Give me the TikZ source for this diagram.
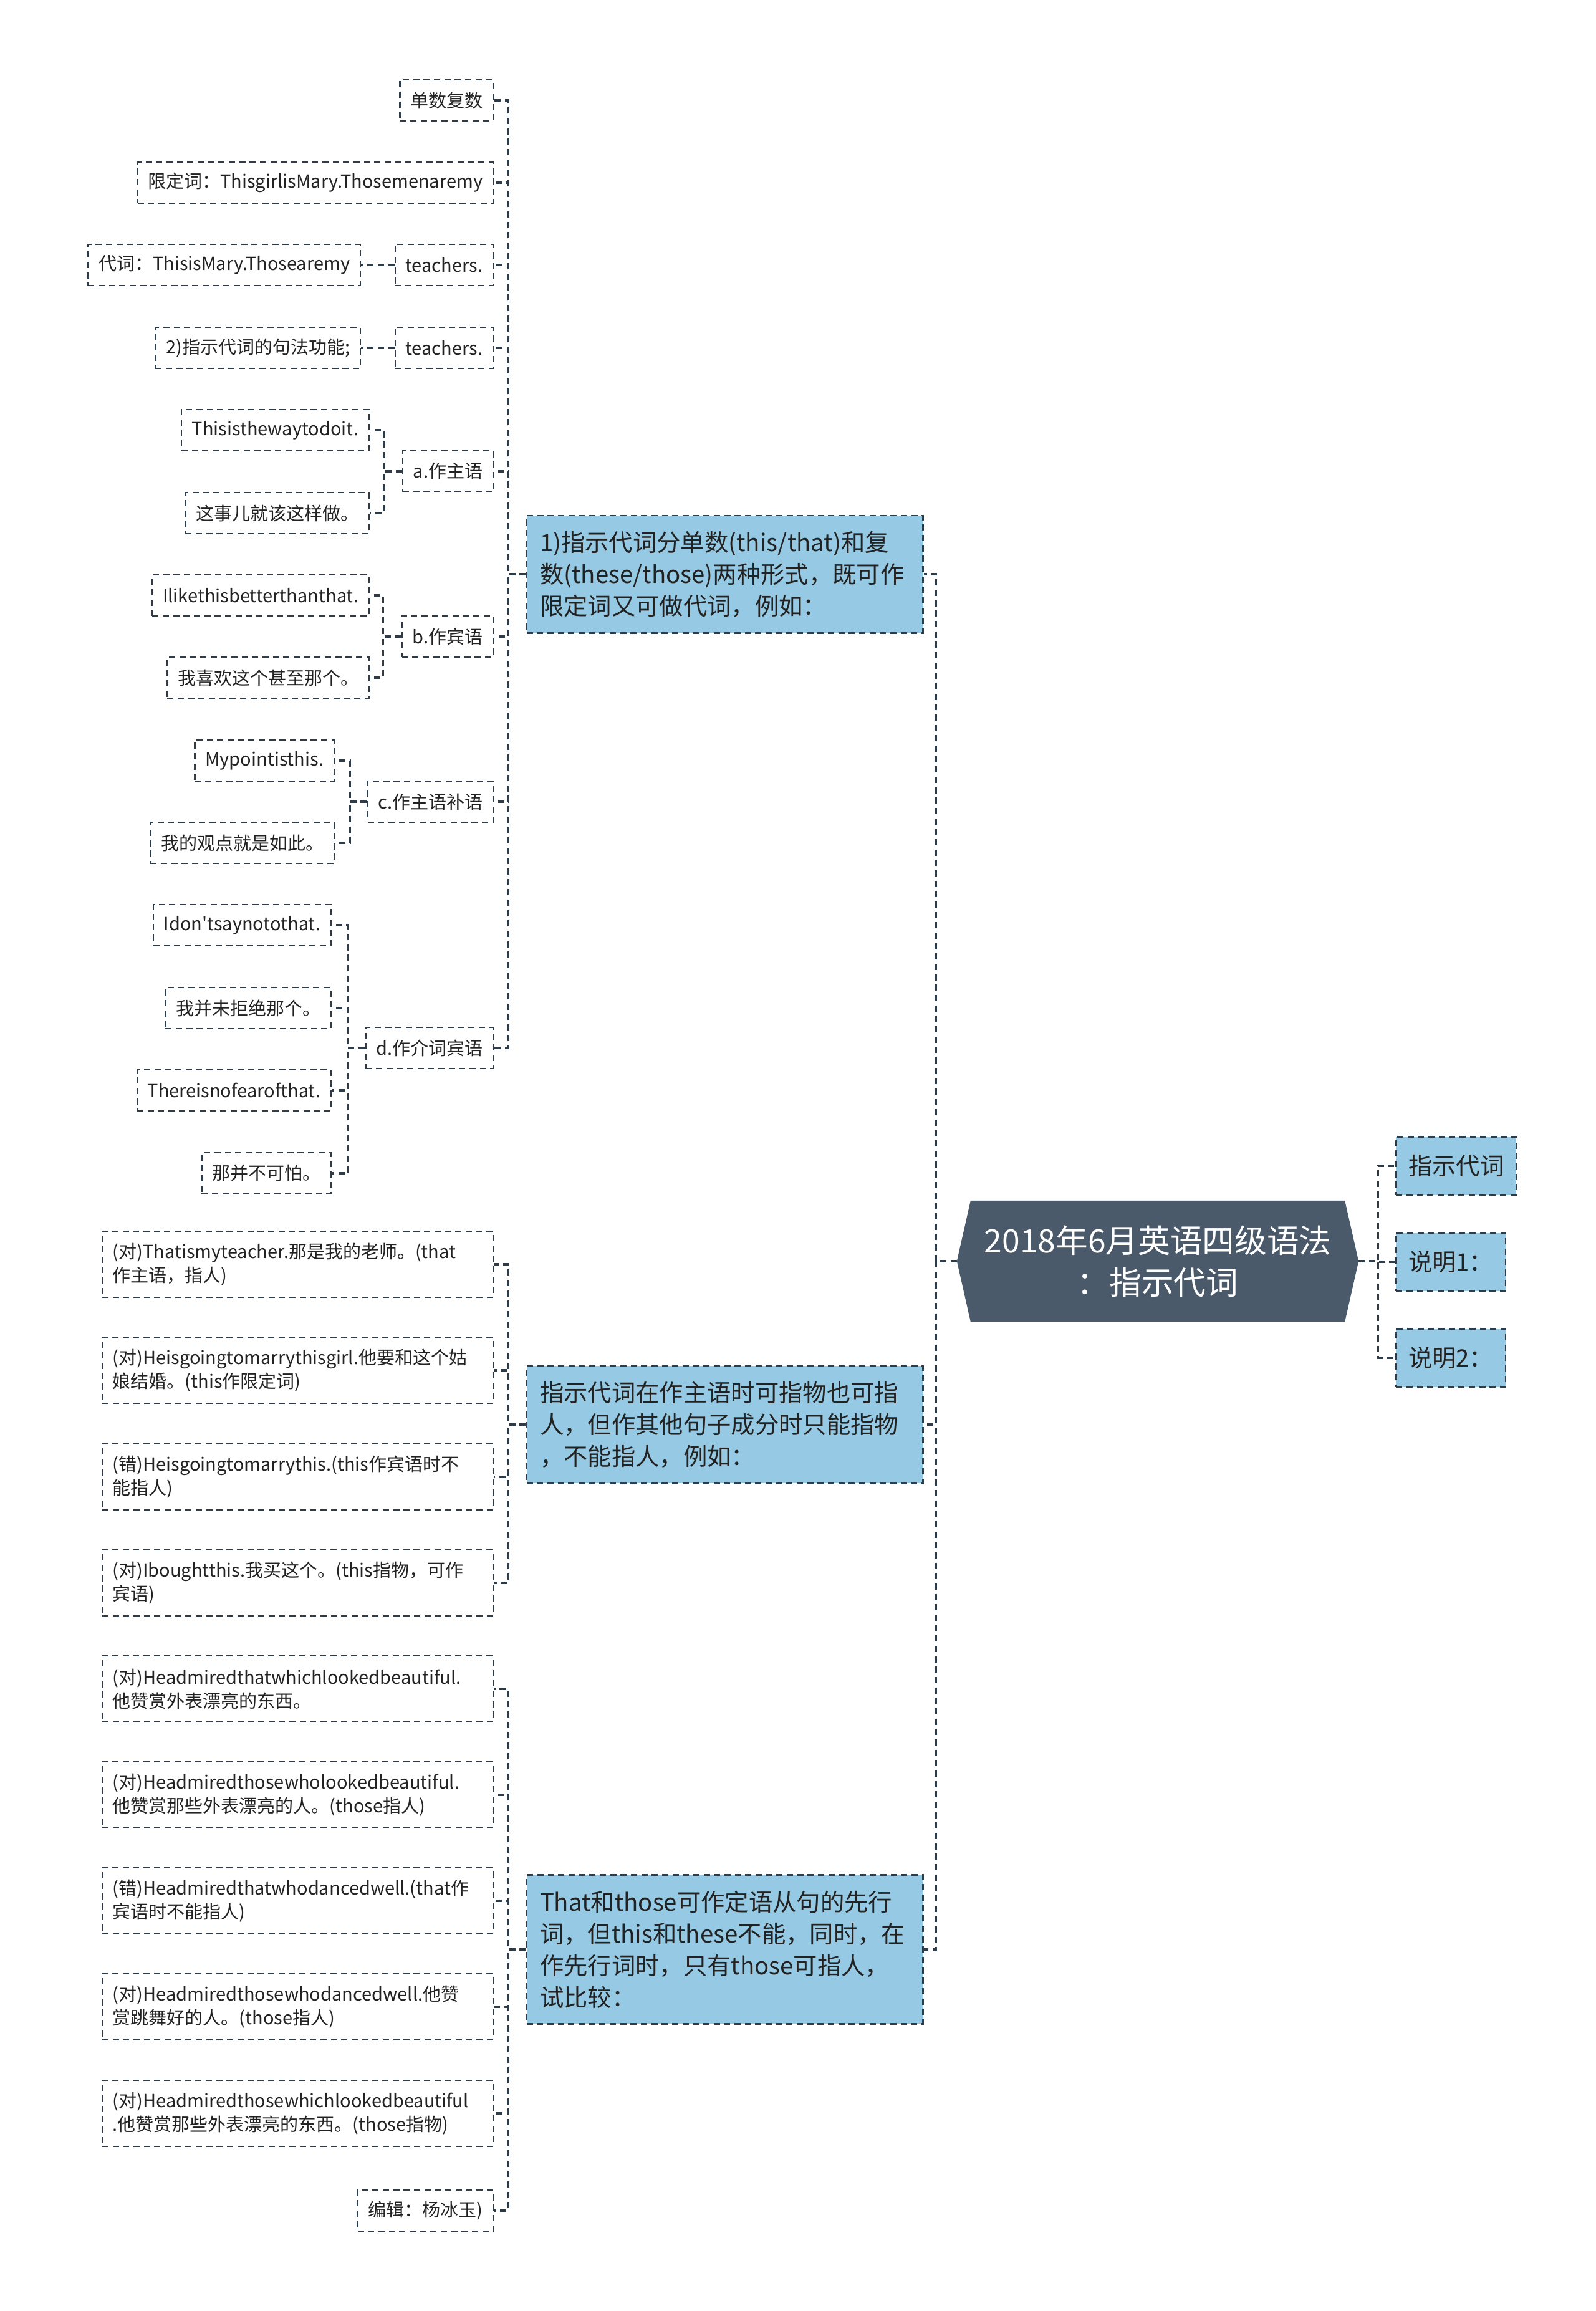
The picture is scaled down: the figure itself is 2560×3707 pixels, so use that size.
\documentclass[tikz,border=0pt]{standalone}
\usepackage{fontspec}
\setmainfont{Noto Sans CJK SC}
\usepackage{tikz}
\usetikzlibrary{backgrounds}
\definecolor{MapEdge}{RGB}{46,60,73}
\definecolor{MapBlue}{RGB}{150,202,228}
\definecolor{MapRoot}{RGB}{74,90,106}
\definecolor{MapText}{RGB}{34,34,34}
\newlength\mapunit
\setlength\mapunit{0.3pt}
\begin{document}
\begin{tikzpicture}[x=1\mapunit,y=-1\mapunit,
link/.style={draw=MapEdge,line width=0.95pt,dash pattern=on 3pt off 2pt},
leaf/.style={draw=MapEdge,line width=0.75pt,dash pattern=on 3pt off 2pt,text=MapText,font=\fontsize{8.7}{11.4}\selectfont,inner xsep=5pt,minimum height=66\mapunit,anchor=east},
wide/.style={leaf,text width=178pt,align=left,minimum height=106\mapunit},
topic/.style={draw=MapEdge,fill=MapBlue,line width=0.8pt,dash pattern=on 3pt off 2pt,text=MapText,font=\fontsize{11.5}{15.3}\selectfont,inner xsep=6.4pt,inner ysep=7.5pt,text width=178pt,align=left,anchor=east},
note/.style={draw=MapEdge,fill=MapBlue,line width=0.8pt,dash pattern=on 3pt off 2pt,text=MapText,font=\fontsize{11.5}{15.3}\selectfont,inner xsep=5.9pt,minimum height=93\mapunit,anchor=west},
rootbox/.style={text=white,font=\fontsize{15.5}{20}\selectfont,align=center,minimum width=599\mapunit,minimum height=193\mapunit,inner sep=0pt}]
\useasboundingbox (0,0) rectangle (2560,3707);
\node[rootbox] (root) at (1857,2023) {2018年6月英语四级语法\\：指示代词};
\coordinate (rootW) at ([xshift=-22\mapunit]root.west);
\coordinate (rootE) at ([xshift=22\mapunit]root.east);
\begin{scope}[on background layer]
\fill[MapRoot] (rootW) -- (root.north west) -- (root.north east) -- (rootE) -- (root.south east) -- (root.south west) -- cycle;
\end{scope}
\node[note] (r1) at (2238,1870) {指示代词};
\node[note] (r2) at (2238,2024) {说明1：};
\node[note] (r3) at (2238,2178) {说明2：};
\foreach \r in {r1,r2,r3} {
   \draw[link] (rootE) -- ++(31,0) |- (\r.west);
}
\node[topic] (B1) at (1482,921) {1)指示代词分单数(this/that)和复\\数(these/those)两种形式，既可作\\限定词又可做代词，例如：};
\node[topic] (B2) at (1482,2285) {指示代词在作主语时可指物也可指\\人，但作其他句子成分时只能指物\\，不能指人，例如：};
\node[topic] (B3) at (1482,3127) {That和those可作定语从句的先行\\词，但this和these不能，同时，在\\作先行词时，只有those可指人，\\试比较：};
\foreach \b in {B1,B2,B3} {
   \draw[link] (rootW) -- ++(-33,0) |- (\b.east);
}
\foreach \n/\y/\t in %
{l1/161/单数复数,l2/293/{限定词：ThisgirlisMary.Thosemenaremy},t1/425/teachers.,t2/558/teachers.,sa/756/a.作主语,sb/1021/b.作宾语,sc/1286/c.作主语补语,sd/1681/d.作介词宾语} {
   \node[leaf] (\n) at (792,\y) {\t};
   \draw[link] (B1.west) -- ++(-28,0) |- (\n.east);
}
\node[leaf] (d1) at (579,425) {代词：ThisisMary.Thosearemy};
\node[leaf] (d2) at (579,558) {2)指示代词的句法功能;};
\draw[link] (t1.west) -- (d1.east);
\draw[link] (t2.west) -- (d2.east);
\foreach \n/\y/\t in %
{sa1/690/Thisisthewaytodoit.,sa2/823/这事儿就该这样做。} {
   \node[leaf] (\n) at (593,\y) {\t};
   \draw[link] (sa.west) -- ++(-29,0) |- (\n.east);
}
\foreach \n/\y/\t in %
{sb1/955/Ilikethisbetterthanthat.,sb2/1087/我喜欢这个甚至那个。} {
   \node[leaf] (\n) at (593,\y) {\t};
   \draw[link] (sb.west) -- ++(-29,0) |- (\n.east);
}
\foreach \n/\y/\t in %
{sc1/1220/Mypointisthis.,sc2/1352/我的观点就是如此。} {
   \node[leaf] (\n) at (537,\y) {\t};
   \draw[link] (sc.west) -- ++(-27,0) |- (\n.east);
}
\foreach \n/\y/\t in %
{sd1/1484/Idon\textquotesingle tsaynotothat.,sd2/1617/我并未拒绝那个。,sd3/1749/Thereisnofearofthat.,sd4/1882/那并不可怕。} {
   \node[leaf] (\n) at (532,\y) {\t};
   \draw[link] (sd.west) -- ++(-27,0) |- (\n.east);
}
\foreach \n/\y/\t in %
{e1/2028/{(对)Thatismyteacher.那是我的老师。(that\\作主语，指人)},
 e2/2198/{(对)Heisgoingtomarrythisgirl.他要和这个姑\\娘结婚。(this作限定词)},
 e3/2369/{(错)Heisgoingtomarrythis.(this作宾语时不\\能指人)},
 e4/2539/{(对)Iboughtthis.我买这个。(this指物，可作\\宾语)}} {
   \node[wide] (\n) at (792,\y) {\t};
   \draw[link] (B2.west) -- ++(-28,0) |- (\n.east);
}
\foreach \n/\y/\t in %
{f1/2709/{(对)Headmiredthatwhichlookedbeautiful.\\他赞赏外表漂亮的东西。},
 f2/2879/{(对)Headmiredthosewholookedbeautiful.\\他赞赏那些外表漂亮的人。(those指人)},
 f3/3049/{(错)Headmiredthatwhodancedwell.(that作\\宾语时不能指人)},
 f4/3219/{(对)Headmiredthosewhodancedwell.他赞\\赏跳舞好的人。(those指人)},
 f5/3390/{(对)Headmiredthosewhichlookedbeautiful\\.他赞赏那些外表漂亮的东西。(those指物)}} {
   \node[wide] (\n) at (792,\y) {\t};
   \draw[link] (B3.west) -- ++(-28,0) |- (\n.east);
}
\node[leaf] (f6) at (792,3546) {编辑：杨冰玉)};
\draw[link] (B3.west) -- ++(-28,0) |- (f6.east);
\end{tikzpicture}
\end{document}
